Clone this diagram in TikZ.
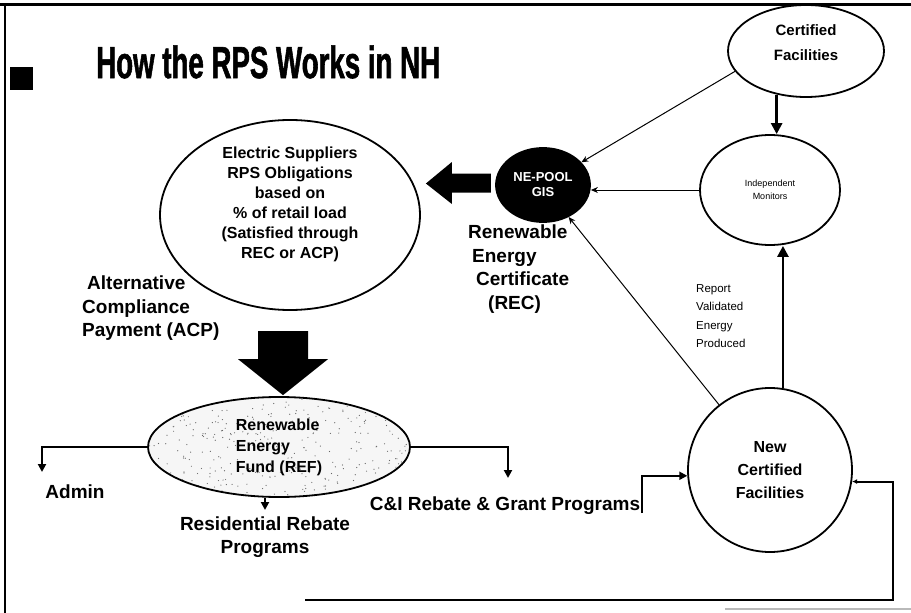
\documentclass[tikz,border=0pt]{standalone}
\usepackage{fontspec}
\setmainfont{Liberation Sans}
\newfontfamily\titlefont{Liberation Sans}[FakeStretch=0.615,FakeBold=1.2]
\usetikzlibrary{shapes.geometric,arrows.meta,calc,backgrounds}
\begin{document}
\begin{tikzpicture}[x=1pt,y=1pt,
  ell/.style={ellipse, draw, line width=1.8pt, inner sep=0pt, align=center},
  lbl/.style={font=\fontsize{19}{23.5}\selectfont\bfseries, inner sep=0pt, align=left},
  thinarr/.style={line width=1pt, -{Stealth[length=7pt,width=6pt]}},
  thickarr/.style={line width=2.6pt, -{Triangle[length=11pt,width=11pt]}},
  brarr/.style={line width=2pt, -{Triangle[length=8pt,width=8pt]}},
  ]
\useasboundingbox (0,0) rectangle (911,-613);
% frame
\draw[line width=3pt] (0,-4) -- (911,-4);
\draw[line width=2pt] (5,-4) -- (5,-613);
\draw[gray!55, line width=1.5pt] (725,-609) -- (911,-609);
\fill (10,-67) rectangle (33,-90);
% title
\node[anchor=west, inner sep=0pt, font=\titlefont\fontsize{45}{45}\selectfont\bfseries] (title) at (96,-62) {How the RPS Works in NH};
% nodes
\node[ell, minimum width=260pt, minimum height=190pt] (es) at (290,-215) {};
\node[inner sep=0pt, align=center, font=\fontsize{16}{20}\selectfont\bfseries] (estext) at (290,-204)
  {Electric Suppliers\\RPS Obligations\\based on\\\% of retail load\\(Satisfied through\\REC or ACP)};
\node[ell, minimum width=262pt, minimum height=100pt, align=left, font=\fontsize{16}{21}\selectfont\bfseries] (ref) at (279,-447)
  {Renewable\\Energy\\Fund (REF)};
\node[ell, fill=black, minimum width=94pt, minimum height=74pt, text=white, font=\fontsize{13}{15}\selectfont\bfseries] (gis) at (543,-185) {NE-POOL\\GIS};
\node[ell, minimum width=156pt, minimum height=92pt] (cf) at (806,-51) {};
\node[inner sep=0pt, align=center, font=\fontsize{15}{25}\selectfont\bfseries] (cftext) at (806,-43) {Certified\\Facilities};
\node[ell, minimum width=140pt, minimum height=110pt, font=\fontsize{9}{13}\selectfont] (im) at (770,-190) {Independent\\Monitors};
\node[ell, minimum width=164pt, minimum height=164pt, font=\fontsize{16}{23}\selectfont\bfseries] (ncf) at (770,-470) {New\\Certified\\Facilities};
% background of REF
\begin{scope}[on background layer]
  \fill[gray!7] (ref.center) ellipse [x radius=131pt, y radius=50pt];
  \clip (ref.center) ellipse [x radius=131pt, y radius=50pt];
  \pgfmathsetseed{11}
  \foreach \i in {1,...,350} {\fill[black!60] ({279+131*rand},{-447+50*rand}) circle (0.6pt);}
\end{scope}
% labels
\node[lbl, anchor=north west] (rec) at (468,-225) {Renewable\\\hspace*{4pt}Energy\\\hspace*{8pt}Certificate\\\hspace*{20pt}(REC)};
\node[lbl, anchor=north west] (acp) at (82,-276) {\hspace*{5pt}Alternative\\Compliance\\Payment (ACP)};
\node[lbl] (admin) at (75,-492) {Admin};
\node[lbl, align=center] (res) at (265,-537) {Residential Rebate\\Programs};
\node[lbl] (ci) at (505,-506) {C\&I Rebate \& Grant Programs};
\node[anchor=north west, inner sep=0pt, align=left, font=\fontsize{11.5}{18.5}\selectfont] (rep) at (696,-284) {Report\\Validated\\Energy\\Produced};
% coordinates
\coordinate (admintip) at (42,-472);
\coordinate (restip) at (265,-510);
\coordinate (citip) at (508,-478);
\coordinate (cistart) at (642,-513);
\coordinate (fbstart) at (305,-600);
\coordinate (fbcorner) at (893,-600);
\coordinate (rectip) at ($(es.east)+(5,31.5)$);
\coordinate (acptip) at ($(ref.north)+(4,1)$);
% block arrows
\fill (rectip) -- ++(26,21.5) -- ++(0,-11.5) -- ++(39,0) -- ++(0,-19) -- ++(-39,0) -- ++(0,-11.5) -- cycle;
\fill (acptip) -- ++(-45,36) -- ++(20,0) -- ++(0,28) -- ++(50,0) -- ++(0,-28) -- ++(20,0) -- cycle;
% connectors
\draw[brarr] (ref.west) -| (admintip);
\draw[brarr] ($(ref.south)+(-14,0)$) -- (restip);
\draw[brarr] (ref.east) -| (citip);
\draw[brarr] (cistart) |- (ncf.184);
\draw[line width=2pt, -{Latex[length=5pt,width=5pt]}] (fbstart) -- (fbcorner) |- (ncf.352);
\draw[thickarr] (cf.236) -- (cf.236 |- im.north);
\draw[thickarr] (ncf.81) -- (ncf.81 |- im.south);
\draw[thinarr] (im.west) -- (gis.east |- im.west);
\draw[thinarr] (cf.196) -- (gis);
\draw[thinarr] (ncf.128) -- (gis);
\end{tikzpicture}
\end{document}
